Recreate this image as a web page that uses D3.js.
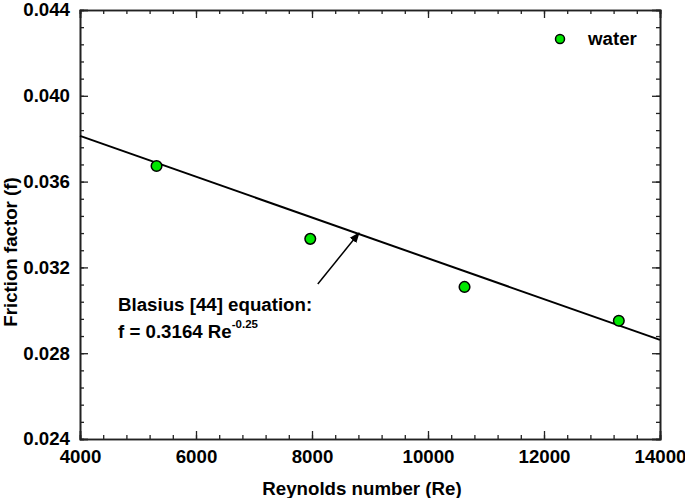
<!doctype html>
<html lang='en'>
  <head>
    <meta charset='utf-8' />
    <style>
      * { padding: 0; margin: 0; }
      body { background: #fff; }
      svg { display: block; font-family: 'Liberation Sans', Arial, sans-serif; }
      .tick text { font-size: 18.7px; font-weight: bold; fill: #000; }
      .lbl { font-size: 18.7px; font-weight: bold; fill: #000; }
    </style>
    <title>Friction factor</title>
  </head>
  <body>
    <div id='container'></div>
    <script src='https://d3js.org/d3.v7.min.js'></script>
    <script type='text/javascript'>

      // measured points (water)
      var reynolds = [5320, 7970, 10630, 13290];
      var friction = [0.03673, 0.03333, 0.03109, 0.02951];

      // Blasius line as drawn in the figure
      var lineRe = [4000, 14000];
      var lineF = [0.03813, 0.02862];

      // arrow: tail, head
      var arrowRe = [8100, 8810];
      var arrowF = [0.03123, 0.03360];

      var xTicks = [4000, 6000, 8000, 10000, 12000, 14000];
      var yTicks = [0.024, 0.028, 0.032, 0.036, 0.040, 0.044];

      const svg_width = 685,
            svg_height = 498;
      var m = {left: 80, top: 10, right: 25, bottom: 59};
      var w = svg_width - m.left - m.right,
          h = svg_height - m.top - m.bottom;

      var svg = d3.select('#container').append('svg')
          .attr('width', svg_width)
          .attr('height', svg_height);

      var g = svg.append('g').attr('transform', 'translate(' + m.left + ',' + m.top + ')');

      var x = d3.scaleLinear().domain([4000, 14000]).range([0, w]);
      var y = d3.scaleLinear().domain([0.024, 0.044]).range([h, 0]);

      var xMinor = d3.range(4000, 14001, 400);
      var yMinor = d3.range(0, 26).map(function(i) { return 0.024 + i * 0.0008; });

      // minor ticks on all four sides
      function minorAxes() {
        g.append('g').attr('transform', 'translate(0,' + h + ')')
          .call(d3.axisBottom(x).tickValues(xMinor).tickSize(-4).tickFormat(''));
        g.append('g')
          .call(d3.axisTop(x).tickValues(xMinor).tickSize(-4).tickFormat(''));
        g.append('g')
          .call(d3.axisLeft(y).tickValues(yMinor).tickSize(-4).tickFormat(''));
        g.append('g').attr('transform', 'translate(' + w + ',0)')
          .call(d3.axisRight(y).tickValues(yMinor).tickSize(-4).tickFormat(''));
      }
      minorAxes();

      g.append('g').attr('transform', 'translate(0,' + h + ')')
        .call(d3.axisBottom(x).tickValues(xTicks).tickSize(-8).tickPadding(11).tickFormat(d3.format('d')));
      g.append('g')
        .call(d3.axisTop(x).tickValues(xTicks).tickSize(-8).tickFormat(''));
      g.append('g')
        .call(d3.axisLeft(y).tickValues(yTicks).tickSize(-8).tickPadding(10).tickFormat(d3.format('.3f')));
      g.append('g').attr('transform', 'translate(' + w + ',0)')
        .call(d3.axisRight(y).tickValues(yTicks).tickSize(-8).tickFormat(''));

      g.selectAll('.domain').attr('stroke', '#222').attr('stroke-width', 1.6);
      g.selectAll('.tick line').attr('stroke', '#222').attr('stroke-width', 1.3);

      // Blasius line
      var line = d3.line()
        .x(function(d, i) { return x(lineRe[i]); })
        .y(function(d) { return y(d); });
      g.append('path')
        .attr('d', line(lineF))
        .attr('fill', 'none')
        .attr('stroke', '#000')
        .attr('stroke-width', 2);

      // arrow
      svg.append('defs').append('marker')
        .attr('id', 'ah')
        .attr('viewBox', '0 0 10 10')
        .attr('refX', 9).attr('refY', 5)
        .attr('markerWidth', 7).attr('markerHeight', 7)
        .attr('orient', 'auto')
        .append('path').attr('d', 'M0,1 L10,5 L0,9 Z').attr('fill', '#000');
      g.append('line')
        .attr('x1', x(arrowRe[0])).attr('y1', y(arrowF[0]))
        .attr('x2', x(arrowRe[1])).attr('y2', y(arrowF[1]))
        .attr('stroke', '#000')
        .attr('stroke-width', 1.5)
        .attr('marker-end', 'url(#ah)');

      // points
      g.selectAll('circle.pt')
        .data(friction)
        .enter()
        .append('circle')
        .attr('class', 'pt')
        .attr('cx', function(d, i) { return x(reynolds[i]); })
        .attr('cy', function(d) { return y(d); })
        .attr('r', 5.3)
        .attr('fill', '#00e600')
        .attr('stroke', '#000')
        .attr('stroke-width', 1.5);

      // legend
      svg.append('circle')
        .attr('cx', 560).attr('cy', 39).attr('r', 4.5)
        .attr('fill', '#00e600').attr('stroke', '#000').attr('stroke-width', 1.5);
      svg.append('text').attr('class', 'lbl')
        .attr('x', 588).attr('y', 45).text('water');

      // annotation
      svg.append('text').attr('class', 'lbl')
        .attr('x', 118).attr('y', 311).text('Blasius [44] equation:');
      var eq = svg.append('text').attr('class', 'lbl')
        .attr('x', 118).attr('y', 338);
      eq.append('tspan').text('f = 0.3164 Re');
      eq.append('tspan').attr('dy', -10).style('font-size', '11.5px').text('-0.25');

      // axis titles
      svg.append('text').attr('class', 'lbl')
        .attr('x', m.left + w / 2 - 8).attr('y', 495)
        .attr('text-anchor', 'middle')
        .text('Reynolds number (Re)');
      svg.append('text').attr('class', 'lbl')
        .attr('transform', 'translate(17,252) rotate(-90)')
        .attr('text-anchor', 'middle')
        .text('Friction factor (f)');
    </script>
  </body>
</html>
